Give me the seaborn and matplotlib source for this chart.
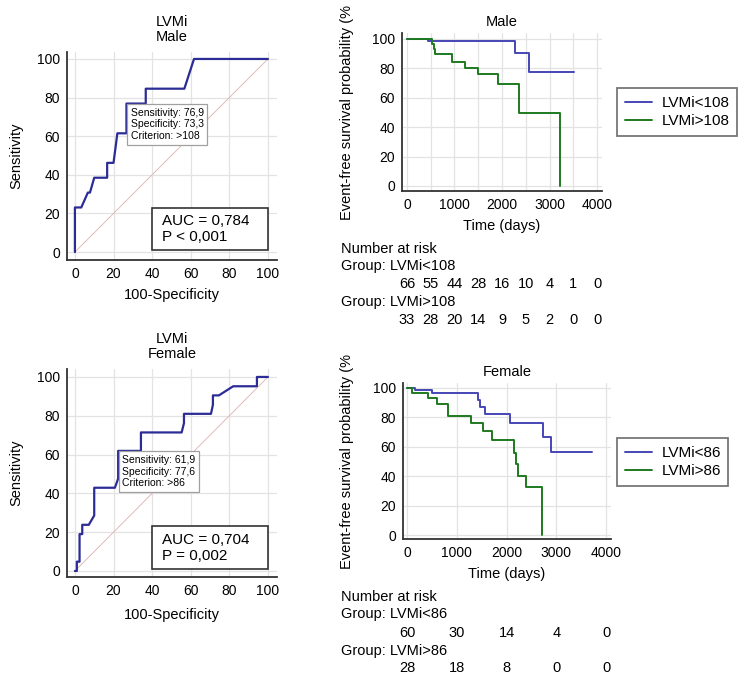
import matplotlib
matplotlib.use("Agg")
import matplotlib.pyplot as plt
import matplotlib.transforms as mtransforms
from matplotlib.patches import Rectangle
from matplotlib.ticker import MultipleLocator
import pandas as pd
import seaborn as sns

# ROC curves (100-Specificity, Sensitivity)
male_roc_fpr = [0, 0, 3.3, 6.7, 7.8, 10, 16.7, 16.7, 20, 21, 22, 26.7, 26.7, 36.7, 36.7, 56.7, 61.7, 100]
male_roc_sens = [0, 23.1, 23.1, 30.8, 30.8, 38.5, 38.5, 46.2, 46.2, 53.8, 61.5, 61.5, 76.9, 76.9, 84.6, 84.6, 100, 100]
female_roc_fpr = [0, 1, 1, 2.4, 2.4, 3.8, 3.8, 7.2, 10, 10, 20.7, 22.4, 22.4, 34.2, 34.2, 55.3, 56.5, 56.5,
                  70.5, 71.5, 71.5, 74.6, 82, 94.3, 94.3, 100]
female_roc_sens = [0, 0, 4.8, 4.8, 19.0, 19.0, 23.8, 23.8, 28.6, 42.9, 42.9, 47.6, 61.9, 61.9, 71.4, 71.4, 76.2, 81.0,
                   81.0, 85.7, 90.5, 90.5, 95.2, 95.2, 100, 100]

male_crit = (26.7, 76.9)
female_crit = (22.4, 61.9)
male_crit_text = "Sensitivity: 76,9\nSpecificity: 73,3\nCriterion: >108"
female_crit_text = "Sensitivity: 61,9\nSpecificity: 77,6\nCriterion: >86"
male_auc_text = "AUC = 0,784\nP < 0,001"
female_auc_text = "AUC = 0,704\nP = 0,002"

# Kaplan-Meier curves (days, event-free survival %)
male_low_t = [0, 450, 2280, 2570, 3510]
male_low_s = [100, 98.4, 90.5, 77.6, 77.6]
male_high_t = [0, 535, 565, 595, 940, 1220, 1495, 1910, 2365, 3225]
male_high_s = [100, 96.6, 93.1, 89.6, 84.6, 80.5, 76.0, 69.2, 49.4, 0]
female_low_t = [0, 155, 510, 1425, 1460, 1560, 2075, 2740, 2895, 3710]
female_low_s = [100, 98.4, 96.4, 91.8, 87.1, 82.1, 76.0, 66.4, 56.7, 56.7]
female_high_t = [0, 95, 430, 610, 825, 1285, 1520, 1700, 2145, 2190, 2240, 2385, 2720]
female_high_s = [100, 96.6, 93.4, 88.9, 80.7, 76.4, 70.7, 64.4, 56.0, 48.3, 40.4, 32.4, 0]

# Number at risk
male_risk_t = [0, 500, 1000, 1500, 2000, 2500, 3000, 3500, 4000]
male_risk_low = [66, 55, 44, 28, 16, 10, 4, 1, 0]
male_risk_high = [33, 28, 20, 14, 9, 5, 2, 0, 0]
female_risk_t = [0, 1000, 2000, 3000, 4000]
female_risk_low = [60, 30, 14, 4, 0]
female_risk_high = [28, 18, 8, 0, 0]

ROC_COLOR = "#2c2c96"
BLUE = "#4646b6"
GREEN = "#1e7a1e"

sns.set_style("white")
plt.rcParams["font.family"] = ["Liberation Sans", "DejaVu Sans"]
plt.rcParams["text.color"] = "black"
plt.rcParams["axes.labelcolor"] = "black"

W, H = 749, 678
fig = plt.figure(figsize=(W / 100, H / 100), dpi=100)


def px_axes(left, top, right, bottom):
    return fig.add_axes([left / W, 1 - bottom / H, (right - left) / W, (bottom - top) / H])


def style_axes(ax, xmaj, xmin, ymaj, ymin, xgrid):
    for s in ["top", "right"]:
        ax.spines[s].set_visible(False)
    for s in ["left", "bottom"]:
        ax.spines[s].set_color("#333333")
        ax.spines[s].set_linewidth(1.3)
    ax.xaxis.set_major_locator(MultipleLocator(xmaj))
    ax.xaxis.set_minor_locator(MultipleLocator(xmin))
    ax.yaxis.set_major_locator(MultipleLocator(ymaj))
    ax.yaxis.set_minor_locator(MultipleLocator(ymin))
    ax.tick_params(which="both", direction="in", colors="#333333", labelcolor="black", labelsize=10)
    ax.tick_params(which="major", length=4, width=1, pad=5)
    ax.tick_params(which="minor", length=3, width=1)
    ax.grid(False)
    ax.yaxis.grid(True, which="major", color="#e3e3e3", lw=0.9)
    ax.xaxis.grid(True, which="major", color="#e3e3e3", lw=0.9)
    if xgrid == "minor":
        ax.xaxis.grid(True, which="minor", color="#e3e3e3", lw=0.9)
    ax.set_axisbelow(True)


def roc_panel(ax, fpr, sens, crit, crit_text, auc_text, title, xlab_y):
    df = pd.DataFrame({"fpr": fpr, "sens": sens})
    ax.plot([0, 100], [0, 100], color="#dcb0b0", lw=0.6, zorder=1)
    sns.lineplot(data=df, x="fpr", y="sens", sort=False, estimator=None, color=ROC_COLOR, lw=1.6, ax=ax, zorder=3)
    ax.set_xlim(-4.1, 104.7)
    style_axes(ax, 20, 5, 20, 5, "major")
    ax.set_title(title, fontsize=10.5, pad=8, linespacing=1.05)
    ax.set_xlabel("100-Specificity", fontsize=10.5)
    ax.set_ylabel("Sensitivity", fontsize=10.5)
    ax.xaxis.set_label_coords(0.5, xlab_y)
    ax.yaxis.set_label_coords(-0.21, 0.5)
    ax.annotate(crit_text, xy=crit, xytext=(3, -3), textcoords="offset points", ha="left", va="top",
                fontsize=7.5, linespacing=1.2, zorder=5,
                bbox=dict(boxstyle="square,pad=0.35", fc="white", ec="#a0a0a0", lw=0.9))
    ax.add_patch(Rectangle((40, 1), 60, 22, fc="white", ec="#333333", lw=1.2, zorder=4))
    ax.text(45, 12, auc_text, fontsize=11, va="center", ha="left", linespacing=1.15, zorder=6)


def km_panel(ax, curves, xlim, ylim, xgrid, title, legend_y, risk_t, risk_rows, risk_y, ylab_bottom):
    for t, s, lab, col in curves:
        df = pd.DataFrame({"t": t, "s": s})
        sns.lineplot(data=df, x="t", y="s", estimator=None, drawstyle="steps-post", color=col, lw=1.4,
                     ax=ax, label=lab)
    ax.set_xlim(*xlim)
    ax.set_ylim(*ylim)
    style_axes(ax, 1000, 500, 20, 10, xgrid)
    ax.set_title(title, fontsize=10.5, pad=5)
    ax.set_xlabel("Time (days)", fontsize=10.5)
    ax.set_ylabel("")
    ax.xaxis.set_label_coords(0.5, -0.18)
    leg = ax.legend(loc="center left", bbox_to_anchor=(617 / W, 1 - legend_y / H), bbox_transform=fig.transFigure,
                    frameon=True, fancybox=False, fontsize=11, handlelength=1.8, handletextpad=0.6,
                    borderpad=0.5, labelspacing=0.25, borderaxespad=0)
    leg.get_frame().set_edgecolor("#555555")
    leg.get_frame().set_linewidth(1.3)
    fig.text(347 / W, 1 - ylab_bottom / H, "Event-free survival probability (%", rotation=90,
             ha="center", va="bottom", fontsize=10.5)
    tr = mtransforms.blended_transform_factory(ax.transData, fig.transFigure)
    ys = risk_y
    fig.text(341 / W, 1 - ys[0] / H, "Number at risk", fontsize=10.5, va="center")
    for (lab, vals), yl, yv in zip(risk_rows, ys[1::2], ys[2::2]):
        fig.text(341 / W, 1 - yl / H, lab, fontsize=10.5, va="center")
        for t, v in zip(risk_t, vals):
            ax.text(t, 1 - yv / H, str(v), transform=tr, ha="center", va="center", fontsize=10.5)


ax1 = px_axes(67, 52, 277, 260)
ax1.set_ylim(-4.1, 103.6)
roc_panel(ax1, male_roc_fpr, male_roc_sens, male_crit, male_crit_text, male_auc_text, "LVMi\nMale", -0.135)

ax3 = px_axes(67, 369, 277, 577)
ax3.set_ylim(-3.1, 104.1)
roc_panel(ax3, female_roc_fpr, female_roc_sens, female_crit, female_crit_text, female_auc_text,
          "LVMi\nFemale", -0.149)

ax2 = px_axes(402, 33, 602, 191)
km_panel(ax2, [(male_low_t, male_low_s, "LVMi<108", BLUE), (male_high_t, male_high_s, "LVMi>108", GREEN)],
         (-105, 4105), (-3.4, 104), "minor", "Male", 112, male_risk_t,
         [("Group: LVMi<108", male_risk_low), ("Group: LVMi>108", male_risk_high)],
         [249, 266, 284, 302, 320], 220)

ax4 = px_axes(403, 383, 611, 539)
km_panel(ax4, [(female_low_t, female_low_s, "LVMi<86", BLUE), (female_high_t, female_high_s, "LVMi>86", GREEN)],
         (-80, 4100), (-2.7, 103.4), "major", "Female", 462, female_risk_t,
         [("Group: LVMi<86", female_risk_low), ("Group: LVMi>86", female_risk_high)],
         [597, 614, 633, 651, 668], 569)

fig.savefig("out.png", dpi=100)
